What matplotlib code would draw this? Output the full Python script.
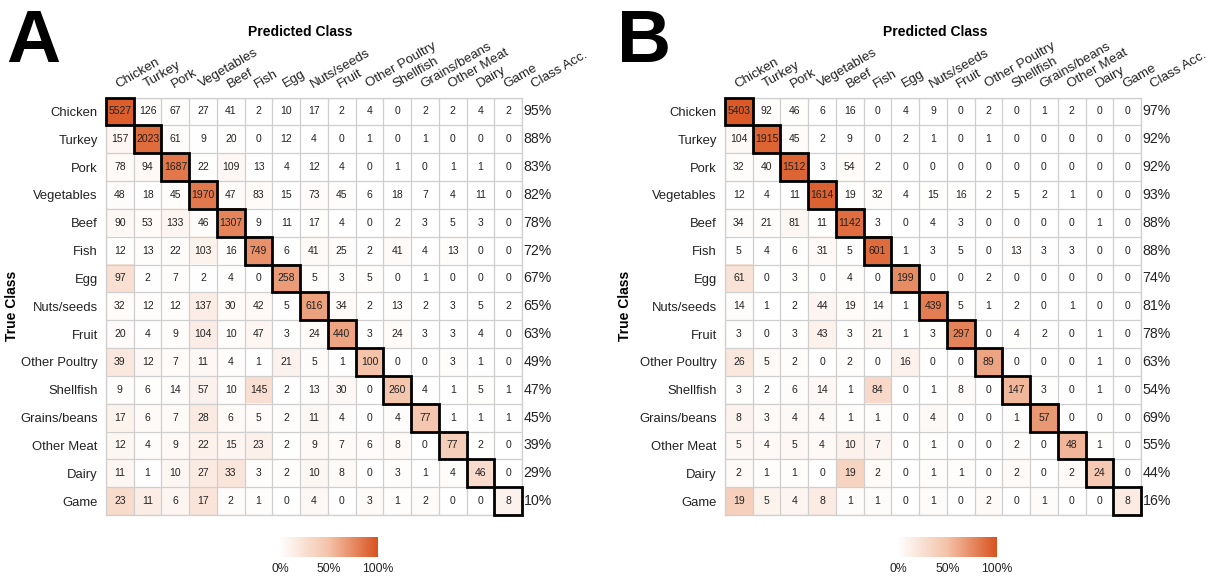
import numpy as np
import matplotlib
matplotlib.use("Agg")
import matplotlib.pyplot as plt
from matplotlib.colors import LinearSegmentedColormap
from matplotlib.patches import Rectangle

plt.rcParams['font.family'] = ['Liberation Sans', 'DejaVu Sans']

classes = ["Chicken", "Turkey", "Pork", "Vegetables", "Beef", "Fish", "Egg",
           "Nuts/seeds", "Fruit", "Other Poultry", "Shellfish", "Grains/beans",
           "Other Meat", "Dairy", "Game"]

counts_a = [
    [5527, 126, 67, 27, 41, 2, 10, 17, 2, 4, 0, 2, 2, 4, 2],
    [157, 2023, 61, 9, 20, 0, 12, 4, 0, 1, 0, 1, 0, 0, 0],
    [78, 94, 1687, 22, 109, 13, 4, 12, 4, 0, 1, 0, 1, 1, 0],
    [48, 18, 45, 1970, 47, 83, 15, 73, 45, 6, 18, 7, 4, 11, 0],
    [90, 53, 133, 46, 1307, 9, 11, 17, 4, 0, 2, 3, 5, 3, 0],
    [12, 13, 22, 103, 16, 749, 6, 41, 25, 2, 41, 4, 13, 0, 0],
    [97, 2, 7, 2, 4, 0, 258, 5, 3, 5, 0, 1, 0, 0, 0],
    [32, 12, 12, 137, 30, 42, 5, 616, 34, 2, 13, 2, 3, 5, 2],
    [20, 4, 9, 104, 10, 47, 3, 24, 440, 3, 24, 3, 3, 4, 0],
    [39, 12, 7, 11, 4, 1, 21, 5, 1, 100, 0, 0, 3, 1, 0],
    [9, 6, 14, 57, 10, 145, 2, 13, 30, 0, 260, 4, 1, 5, 1],
    [17, 6, 7, 28, 6, 5, 2, 11, 4, 0, 4, 77, 1, 1, 1],
    [12, 4, 9, 22, 15, 23, 2, 9, 7, 6, 8, 0, 77, 2, 0],
    [11, 1, 10, 27, 33, 3, 2, 10, 8, 0, 3, 1, 4, 46, 0],
    [23, 11, 6, 17, 2, 1, 0, 4, 0, 3, 1, 2, 0, 0, 8],
]
acc_a = [95, 88, 83, 82, 78, 72, 67, 65, 63, 49, 47, 45, 39, 29, 10]

counts_b = [
    [5403, 92, 46, 6, 16, 0, 4, 9, 0, 2, 0, 1, 2, 0, 0],
    [104, 1915, 45, 2, 9, 0, 2, 1, 0, 1, 0, 0, 0, 0, 0],
    [32, 40, 1512, 3, 54, 2, 0, 0, 0, 0, 0, 0, 0, 0, 0],
    [12, 4, 11, 1614, 19, 32, 4, 15, 16, 2, 5, 2, 1, 0, 0],
    [34, 21, 81, 11, 1142, 3, 0, 4, 3, 0, 0, 0, 0, 1, 0],
    [5, 4, 6, 31, 5, 601, 1, 3, 5, 0, 13, 3, 3, 0, 0],
    [61, 0, 3, 0, 4, 0, 199, 0, 0, 2, 0, 0, 0, 0, 0],
    [14, 1, 2, 44, 19, 14, 1, 439, 5, 1, 2, 0, 1, 0, 0],
    [3, 0, 3, 43, 3, 21, 1, 3, 297, 0, 4, 2, 0, 1, 0],
    [26, 5, 2, 0, 2, 0, 16, 0, 0, 89, 0, 0, 0, 1, 0],
    [3, 2, 6, 14, 1, 84, 0, 1, 8, 0, 147, 3, 0, 1, 0],
    [8, 3, 4, 4, 1, 1, 0, 4, 0, 0, 1, 57, 0, 0, 0],
    [5, 4, 5, 4, 10, 7, 0, 1, 0, 0, 2, 0, 48, 1, 0],
    [2, 1, 1, 0, 19, 2, 0, 1, 1, 0, 2, 0, 2, 24, 0],
    [19, 5, 4, 8, 1, 1, 0, 1, 0, 2, 0, 1, 0, 0, 8],
]
acc_b = [97, 92, 92, 93, 88, 88, 74, 81, 78, 63, 54, 69, 55, 44, 16]

cbar_ticks = ["0%", "50%", "100%"]

W, H = 1211, 577
cmap = LinearSegmentedColormap.from_list("wo", ["#ffffff", "#f4c2a8", "#d9531e"])


def px_rect(x0, y0, x1, y1):
    """Convert a pixel box (top-left origin) to figure fractions."""
    return [x0 / W, 1 - y1 / H, (x1 - x0) / W, (y1 - y0) / H]


def draw_panel(fig, counts, acc, box, letter, letter_x, title_x, ylab_x,
               cbar_box):
    m = np.array(counts, dtype=float)
    frac = m / m.sum(axis=1, keepdims=True)
    n = len(classes)
    ax = fig.add_axes(px_rect(*box))
    ax.imshow(frac, cmap=cmap, vmin=0, vmax=1, aspect="auto",
              extent=(-0.5, n - 0.5, n - 0.5, -0.5), interpolation="nearest")
    ax.set_xlim(-0.5, n - 0.5)
    ax.set_ylim(n - 0.5, -0.5)
    for k in range(n + 1):
        ax.axhline(k - 0.5, color="#cfcfcf", lw=0.9, zorder=2)
        ax.axvline(k - 0.5, color="#cfcfcf", lw=0.9, zorder=2)
    for s in ax.spines.values():
        s.set_color("#cfcfcf")
        s.set_linewidth(0.9)
    for i in range(n):
        for j in range(n):
            ax.text(j, i, f"{int(m[i, j])}", ha="center", va="center",
                    fontsize=7.5, color="#222222", zorder=4)
        ax.add_patch(Rectangle((i - 0.5, i - 0.5), 1, 1, fill=False,
                               ec="black", lw=2.0, zorder=5, clip_on=False))
        ax.text(n - 0.45, i, f"{acc[i]}%", ha="left", va="center",
                fontsize=10.2, color="#222222", clip_on=False)
    ax.set_xticks([])
    ax.set_yticks(range(n))
    ax.set_yticklabels(classes, fontsize=9.4, color="#222222")
    ax.tick_params(axis="y", length=0, pad=6)
    for j, lab in enumerate(classes + ["Class Acc."]):
        ax.text(j - 0.05, -0.85, lab, rotation=30, ha="left", va="baseline",
                rotation_mode="anchor", fontsize=9.6, color="#222222",
                clip_on=False)
    fig.text(ylab_x / W, 1 - 306 / H, "True Class", rotation=90, fontsize=10,
             fontweight="bold", ha="center", va="center")
    fig.text(letter_x / W, 1 - 62 / H, letter, fontsize=54, fontweight="bold",
             ha="left", va="baseline")
    fig.text(title_x / W, 1 - 32 / H, "Predicted Class", fontsize=10,
             fontweight="bold", ha="center", va="center")
    cax = fig.add_axes(px_rect(*cbar_box))
    grad = np.linspace(0, 1, 256)[None, :]
    cax.imshow(grad, cmap=cmap, vmin=0, vmax=1, aspect="auto",
               extent=(0, 1, 0, 1))
    cax.set_xlim(0, 1)
    cax.set_ylim(0, 1)
    cax.set_yticks([])
    cax.set_xticks([0, 0.5, 1])
    cax.set_xticklabels(cbar_ticks, fontsize=8.8, color="#222222")
    cax.tick_params(axis="x", length=0, pad=4)
    for s in cax.spines.values():
        s.set_visible(False)


fig = plt.figure(figsize=(W / 100, H / 100), dpi=100)
draw_panel(fig, counts_a, acc_a, (106, 97.5, 522, 515), "A", 6, 300, 12,
           (280, 537, 378, 557))
draw_panel(fig, counts_b, acc_b, (725, 97.5, 1141, 515), "B", 617, 935, 625,
           (898, 537, 997, 557))
fig.savefig("out.png", dpi=100)
